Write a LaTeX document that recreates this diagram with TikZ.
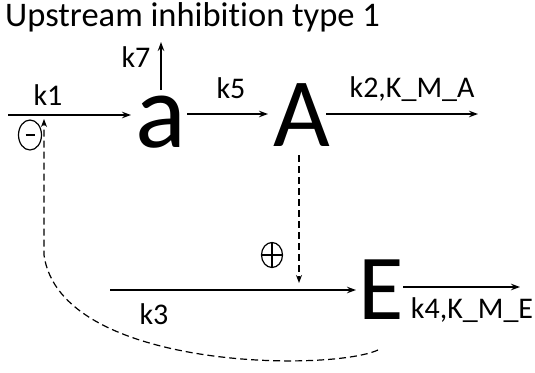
\documentclass[tikz,border=0pt]{standalone}
\usepackage{fontspec}
\setmainfont{Carlito}[Ligatures=NoCommon]
\usetikzlibrary{arrows.meta,shapes.geometric}
\begin{document}
\begin{tikzpicture}[x=1pt,y=-1pt,
  conn/.style={-{Stealth[length=9pt,width=6.5pt]}, line width=1.3pt},
  dconn/.style={-{Stealth[length=8pt,width=6pt]}, line width=1.2pt, dash pattern=on 7pt off 4pt},
  lbl/.style={font=\fontsize{30}{34}\selectfont, inner sep=0pt},
  sign/.style={draw, ellipse, line width=1.2pt, inner sep=0pt}]
\useasboundingbox (0,0) rectangle (535,372);
\node[anchor=base west, font=\fontsize{34.5}{40}\selectfont, inner sep=0pt] (title) at (5,27) {Upstream inhibition type 1};
\node[font=\fontsize{106}{106}\selectfont, inner sep=0pt, text height=0.48em, text depth=0pt, anchor=base] (a) at (161,147) {a};
\node[font=\fontsize{98}{98}\selectfont, inner sep=0pt, text height=0.65em, text depth=0pt, anchor=base] (A) at (302,146) {A};
\node[font=\fontsize{93}{93}\selectfont, inner sep=0pt, text height=0.65em, text depth=0pt, anchor=base] (E) at (381,319) {E};
\coordinate (in1) at (8,115);
\coordinate (a1) at (131,115);
\coordinate (k7s) at (161,90);
\coordinate (k7e) at (161,42);
\coordinate (a2) at (187,114);
\coordinate (A1) at (268,114);
\coordinate (A2) at (326,114);
\coordinate (out2) at (478,114);
\coordinate (A3) at (299,155);
\coordinate (j3) at (299,283);
\coordinate (in3) at (110,290);
\coordinate (E1) at (356,290);
\coordinate (E2) at (403,287);
\coordinate (out4) at (520,287);
\coordinate (Eb) at (378,350);
\coordinate (inh) at (44,119);
\draw[conn] (in1) -- (a1);
\draw[conn] (k7s) -- (k7e);
\draw[conn] (a2) -- (A1);
\draw[conn] (A2) -- (out2);
\draw[dconn] (A3) -- (j3);
\draw[conn] (in3) -- (E1);
\draw[conn] (E2) -- (out4);
\draw[dconn] (Eb) .. controls (330,372) and (60,370) .. (44,255) -- (inh);
\node[lbl, anchor=base] (l1) at (48,105) {k1};
\node[lbl, anchor=base] (l7) at (136,67) {k7};
\node[lbl, anchor=base] (l5) at (231,98) {k5};
\node[lbl, anchor=base] (l2) at (412,97) {k2,K\_M\_A};
\node[lbl, anchor=base] (l3) at (154,324) {k3};
\node[lbl, anchor=base] (l4) at (472,318) {k4,K\_M\_E};
\node[sign, minimum width=23pt, minimum height=30pt] (minus) at (30,135) {};
\draw[line width=2.5pt] ([xshift=-4.5pt]minus.center) -- ([xshift=4.5pt]minus.center);
\node[sign, minimum width=21pt, minimum height=25pt] (plus) at (272,255) {};
\draw[line width=1.2pt] (plus.north) -- (plus.south) (plus.west) -- (plus.east);
\end{tikzpicture}
\end{document}
